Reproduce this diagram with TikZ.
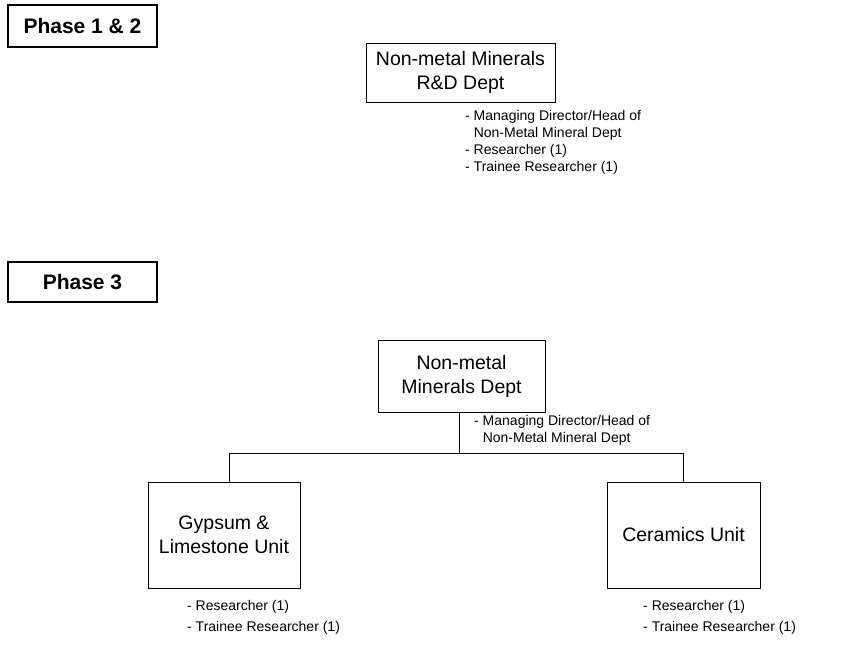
\documentclass[tikz,border=0pt]{standalone}
\usepackage{fontspec}
\setmainfont{Liberation Sans}
\begin{document}
\begin{tikzpicture}[x=1pt,y=-1pt,
  unitbox/.style={draw,line width=0.9pt,rectangle,inner sep=0pt,align=center,
    font=\fontsize{19.5}{24}\selectfont},
  phasebox/.style={draw,line width=1.6pt,rectangle,inner sep=0pt,align=center,
    font=\fontsize{21}{24}\selectfont\bfseries},
  staff/.style={anchor=north west,inner sep=0pt,align=left,
    font=\fontsize{14}{17}\selectfont},
  link/.style={line width=0.9pt}]
\useasboundingbox (0,0) rectangle (842,652);

% Phase 1 & 2
\node[phasebox,minimum width=149pt,minimum height=42pt] (p12) at (82.5,26) {Phase 1 \& 2};
\node[unitbox,minimum width=189pt,minimum height=59pt] (rd) at (460.5,72.5)
  {Non-metal Minerals\\R\&D Dept};
\node[staff] (rdstaff) at (465,110) {- Managing Director/Head of\\
  \phantom{- }Non-Metal Mineral Dept\\- Researcher (1)\\- Trainee Researcher (1)};

% Phase 3
\node[phasebox,minimum width=149pt,minimum height=40pt] (p3) at (82.5,282) {Phase 3};
\node[unitbox,minimum width=167pt,minimum height=72pt] (dept) at (461.5,376)
  {Non-metal\\Minerals Dept};
\node[staff] (deptstaff) at (474,415) {- Managing Director/Head of\\
  \phantom{- }Non-Metal Mineral Dept};

\node[unitbox,minimum width=152pt,minimum height=106pt] (gyp) at (224,535)
  {Gypsum \&\\Limestone Unit};
\node[unitbox,minimum width=153pt,minimum height=106pt] (cer) at (683.5,535)
  {Ceramics Unit};
\node[staff] (gypstaff) at (187,600) {- Researcher (1)\\[4pt]- Trainee Researcher (1)};
\node[staff] (cerstaff) at (643,600) {- Researcher (1)\\[4pt]- Trainee Researcher (1)};

% reporting lines
\coordinate (bus) at (459,453);
\coordinate (busL) at (229,453);
\coordinate (busR) at (683,453);
\draw[link] (dept.south -| bus) -- (bus);
\draw[link] (gyp.north -| busL) -- (busL) -- (busR) -- (cer.north -| busR);
\end{tikzpicture}
\end{document}
